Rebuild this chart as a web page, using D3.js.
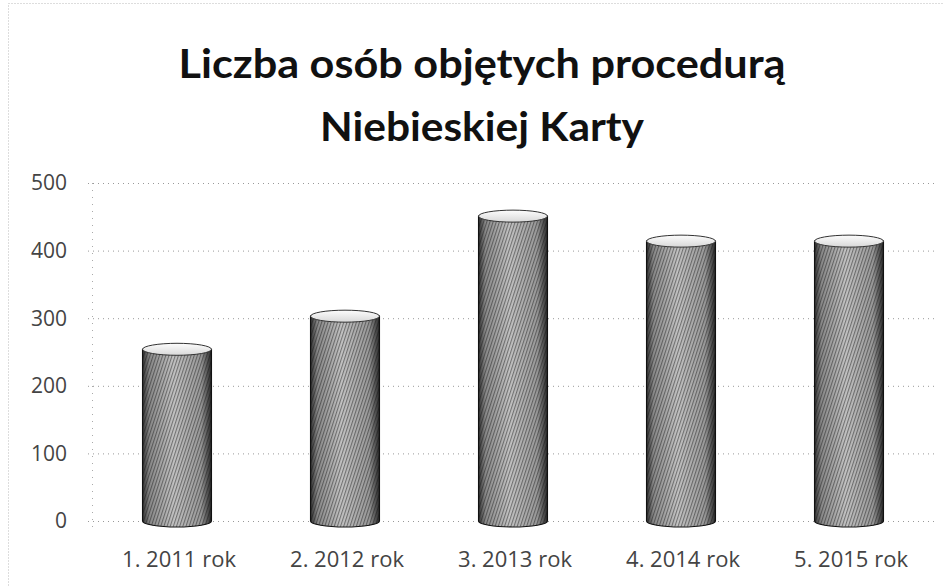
<!DOCTYPE html>
<html>
<head>
<meta charset="utf-8">
<style>
  body { margin: 0; background: #fff; }
  svg { display: block; }
</style>
</head>
<body>
<script src="https://cdn.jsdelivr.net/npm/d3@7/dist/d3.min.js"></script>
<script>
// dane
var categories = ["1. 2011 rok", "2. 2012 rok", "3. 2013 rok", "4. 2014 rok", "5. 2015 rok"];
var values = [254, 303, 451, 414, 414];
var yTicks = [0, 100, 200, 300, 400, 500];
var titleLines = ["Liczba osób objętych procedurą", "Niebieskiej Karty"];

var width = 943, height = 586;
var svg = d3.select("body").append("svg")
  .attr("width", width)
  .attr("height", height);

var defs = svg.append("defs");

// gradient walca
var grad = defs.append("linearGradient").attr("id", "cyl")
  .attr("x1", "0%").attr("x2", "100%").attr("y1", "0%").attr("y2", "0%");
grad.append("stop").attr("offset", "0%").attr("stop-color", "#333");
grad.append("stop").attr("offset", "10%").attr("stop-color", "#8a8a8a");
grad.append("stop").attr("offset", "45%").attr("stop-color", "#c4c4c4");
grad.append("stop").attr("offset", "85%").attr("stop-color", "#9a9a9a");
grad.append("stop").attr("offset", "100%").attr("stop-color", "#2a2a2a");

// tekstura ze skanu
var pat = defs.append("pattern").attr("id", "hatch")
  .attr("patternUnits", "userSpaceOnUse")
  .attr("width", 3).attr("height", 3)
  .attr("patternTransform", "rotate(18)");
pat.append("rect").attr("width", 1.1).attr("height", 3).attr("fill", "#111").attr("opacity", 0.45);

var topGrad = defs.append("linearGradient").attr("id", "topg")
  .attr("x1", "0%").attr("x2", "0%").attr("y1", "0%").attr("y2", "100%");
topGrad.append("stop").attr("offset", "0%").attr("stop-color", "#fdfdfd");
topGrad.append("stop").attr("offset", "100%").attr("stop-color", "#d8d8d8");

// ramka
svg.append("rect")
  .attr("x", 8.5).attr("y", 3.5)
  .attr("width", 940).attr("height", 590)
  .attr("fill", "none")
  .attr("stroke", "#bbb")
  .attr("stroke-dasharray", "1,2");

var x = d3.scaleBand()
  .domain(categories)
  .range([93, 933])
  .paddingInner(0.59)
  .paddingOuter(0.295);

var y = d3.scaleLinear()
  .domain([0, 500])
  .range([521, 183]);

// siatka
svg.selectAll("line.grid")
  .data(yTicks)
  .enter()
  .append("line")
  .attr("class", "grid")
  .attr("x1", 88)
  .attr("x2", 935)
  .attr("y1", function(d) { return y(d) + 0.5; })
  .attr("y2", function(d) { return y(d) + 0.5; })
  .attr("stroke", "#999")
  .attr("stroke-width", 1)
  .attr("stroke-dasharray", "1,4");

svg.append("line")
  .attr("x1", 92.5).attr("x2", 92.5)
  .attr("y1", y(500)).attr("y2", y(0) + 6)
  .attr("stroke", "#aaa")
  .attr("stroke-dasharray", "1,6");

// etykiety osi Y
svg.selectAll("text.ytick")
  .data(yTicks)
  .enter()
  .append("text")
  .attr("class", "ytick")
  .attr("x", 67)
  .attr("y", function(d) { return y(d); })
  .attr("dy", "0.35em")
  .attr("text-anchor", "end")
  .attr("font-family", "'Open Sans', sans-serif")
  .attr("font-size", "21px")
  .attr("fill", "#444")
  .text(function(d) { return d; });

// słupki (walce)
var ry = 6;
function cylPath(d, i) {
  var x0 = x(categories[i]), w = x.bandwidth();
  var yt = y(d), yb = y(0);
  return "M" + x0 + "," + yt +
    " L" + x0 + "," + yb +
    " A" + (w / 2) + "," + ry + " 0 0 0 " + (x0 + w) + "," + yb +
    " L" + (x0 + w) + "," + yt + " Z";
}

var bars = svg.selectAll("g.bar")
  .data(values)
  .enter()
  .append("g")
  .attr("class", "bar");

bars.append("path")
  .attr("d", cylPath)
  .attr("fill", "url(#cyl)")
  .attr("stroke", "#111")
  .attr("stroke-width", 1.2);

bars.append("path")
  .attr("d", cylPath)
  .attr("fill", "url(#hatch)");

bars.append("ellipse")
  .attr("cx", function(d, i) { return x(categories[i]) + x.bandwidth() / 2; })
  .attr("cy", function(d) { return y(d); })
  .attr("rx", x.bandwidth() / 2)
  .attr("ry", ry)
  .attr("fill", "url(#topg)")
  .attr("stroke", "#333")
  .attr("stroke-width", 1);

// etykiety kategorii
svg.selectAll("text.xtick")
  .data(categories)
  .enter()
  .append("text")
  .attr("class", "xtick")
  .attr("x", function(d) { return x(d) + x.bandwidth() / 2 + 2; })
  .attr("y", 567)
  .attr("text-anchor", "middle")
  .attr("font-family", "'Open Sans', sans-serif")
  .attr("font-size", "22px")
  .attr("fill", "#444")
  .text(function(d) { return d; });

// tytuł
var titleWidths = [607, 324];
svg.selectAll("text.title")
  .data(titleLines)
  .enter()
  .append("text")
  .attr("class", "title")
  .attr("x", 482)
  .attr("y", function(d, i) { return 78 + i * 63; })
  .attr("text-anchor", "middle")
  .attr("font-family", "Lato, sans-serif")
  .attr("font-weight", "bold")
  .attr("font-size", "41px")
  .attr("textLength", function(d, i) { return titleWidths[i]; })
  .attr("lengthAdjust", "spacingAndGlyphs")
  .attr("fill", "#111")
  .text(function(d) { return d; });
</script>
</body>
</html>
